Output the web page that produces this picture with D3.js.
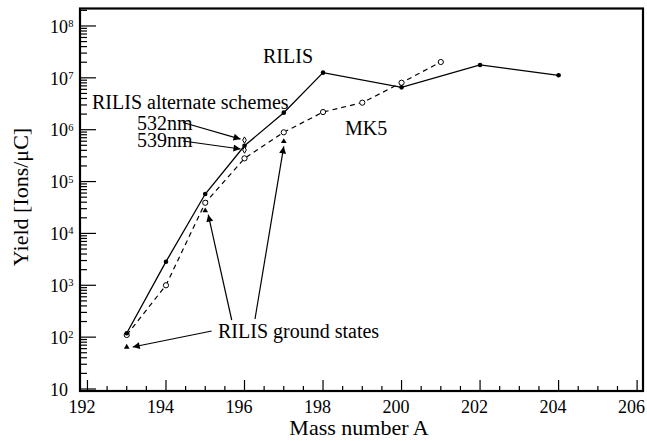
<!DOCTYPE html>
<html>
<head>
<meta charset="UTF-8">
<style>
    body { margin: 0; background: white; }
    text { font-family: "Liberation Serif", "DejaVu Serif", serif; fill: black; }
    .frame { fill: none; stroke: black; stroke-width: 2.2; }
    .tick { stroke: black; stroke-width: 1.2; }
</style>
</head>
<body>
<svg width="647" height="441"></svg>
<script src="https://d3js.org/d3.v7.min.js"></script>
<script>
// data
var rilisMass = [193, 194, 195, 196, 197, 198, 200, 202, 204];
var rilisYield = [119, 2850, 5.75e4, 4.9e5, 2.13e6, 1.26e7, 6.56e6, 1.77e7, 1.12e7];
var mk5Mass = [193, 194, 195, 196, 197, 198, 199, 200, 201];
var mk5Yield = [110, 1000, 3.9e4, 2.8e5, 8.9e5, 2.19e6, 3.32e6, 8.05e6, 2.02e7];
var groundMass = [193, 195, 197];
var groundYield = [64.5, 2.74e4, 5.94e5];
var altLabels = ["532nm", "539nm"];
var altMass = [196, 196];
var altYield = [6.3e5, 4.06e5];
var xTicks = [192, 194, 196, 198, 200, 202, 204, 206];
var yExp = [1, 2, 3, 4, 5, 6, 7, 8];

var svg = d3.select("svg");
var pLeft = 80, pTop = 8.5, pRight = 643, pBottom = 391;

var x = d3.scaleLinear().domain([191.81, 206.15]).range([pLeft, pRight]);
var y = d3.scaleLog().domain([Math.pow(10, 0.9614), Math.pow(10, 8.337)]).range([pBottom, pTop]);

svg.append("defs").append("marker")
    .attr("id", "head")
    .attr("viewBox", "0 0 10 10")
    .attr("refX", 10).attr("refY", 5)
    .attr("markerWidth", 9).attr("markerHeight", 7)
    .attr("markerUnits", "userSpaceOnUse")
    .attr("orient", "auto")
    .append("path").attr("d", "M0,0L10,5L0,10z").attr("fill", "black");

// y ticks (major + minor), inside the frame
var g = svg.append("g");
yExp.forEach(function(e) {
    var v = Math.pow(10, e);
    g.append("line").attr("class", "tick")
        .attr("x1", pLeft).attr("x2", pLeft + 16)
        .attr("y1", y(v)).attr("y2", y(v));
    for (var m = 2; m <= 9; m++) {
        var mv = m * v;
        if (mv > y.domain()[1]) break;
        g.append("line").attr("class", "tick")
            .attr("x1", pLeft).attr("x2", pLeft + 7)
            .attr("y1", y(mv)).attr("y2", y(mv));
    }
    g.append("text").attr("x", 68).attr("y", y(v) + 6.7)
        .attr("text-anchor", "end").attr("font-size", 18).text("10");
    if (e > 1) {
        g.append("text").attr("x", 68.3).attr("y", y(v) + 1)
            .attr("font-size", 10.5).text(e);
    }
});

// x ticks
d3.range(192, 206.01, 0.5).forEach(function(t) {
    var major = t % 2 === 0;
    g.append("line").attr("class", "tick")
        .attr("x1", x(t)).attr("x2", x(t))
        .attr("y1", pBottom).attr("y2", pBottom - (major ? 11 : 5));
});
g.selectAll(".xl").data(xTicks).enter().append("text")
    .attr("x", function(d) { return x(d) - 5.5; }).attr("y", 413)
    .attr("text-anchor", "middle").attr("font-size", 18)
    .text(function(d) { return d; });

svg.append("rect").attr("class", "frame")
    .attr("x", pLeft).attr("y", pTop)
    .attr("width", pRight - pLeft).attr("height", pBottom - pTop);

// axis titles
svg.append("text").attr("x", 359).attr("y", 435)
    .attr("text-anchor", "middle").attr("font-size", 22).text("Mass number A");
svg.append("text").attr("transform", "translate(28,197) rotate(-90)")
    .attr("text-anchor", "middle").attr("font-size", 22).text("Yield [Ions/μC]");

// lines
var line = d3.line().x(function(d) { return x(d[0]); }).y(function(d) { return y(d[1]); });
var rilis = d3.zip(rilisMass, rilisYield);
var mk5 = d3.zip(mk5Mass, mk5Yield);

svg.append("path").datum(mk5).attr("d", line)
    .attr("fill", "none").attr("stroke", "black").attr("stroke-width", 1.2)
    .attr("stroke-dasharray", "5,4");
svg.append("path").datum(rilis).attr("d", line)
    .attr("fill", "none").attr("stroke", "black").attr("stroke-width", 1.3);

svg.selectAll(".mk").data(mk5).enter().append("circle")
    .attr("cx", function(d) { return x(d[0]); }).attr("cy", function(d) { return y(d[1]); })
    .attr("r", 2.6).attr("fill", "white").attr("stroke", "black").attr("stroke-width", 1);
svg.selectAll(".rl").data(rilis).enter().append("circle")
    .attr("cx", function(d) { return x(d[0]); }).attr("cy", function(d) { return y(d[1]); })
    .attr("r", 2.3).attr("fill", "black");

var tri = d3.symbol().type(d3.symbolTriangle).size(14);
svg.selectAll(".gs").data(d3.zip(groundMass, groundYield)).enter().append("path")
    .attr("d", tri)
    .attr("transform", function(d) { return "translate(" + x(d[0]) + "," + y(d[1]) + ")"; })
    .attr("fill", "black");

var dia = d3.symbol().type(d3.symbolDiamond).size(12);
svg.selectAll(".alt").data(d3.zip(altMass, altYield)).enter().append("path")
    .attr("d", dia)
    .attr("transform", function(d) { return "translate(" + x(d[0]) + "," + y(d[1]) + ")"; })
    .attr("fill", "white").attr("stroke", "black").attr("stroke-width", 1);

// annotations
function label(tx, ty, s) {
    svg.append("text").attr("x", tx).attr("y", ty).attr("font-size", 20).text(s);
}
label(263, 63, "RILIS");
label(345, 135, "MK5");
label(92, 109, "RILIS alternate schemes");
label(137, 129.5, altLabels[0]);
label(137, 147, altLabels[1]);
label(218, 338, "RILIS ground states");

function arrow(x1, y1, x2, y2) {
    svg.append("line").attr("x1", x1).attr("y1", y1).attr("x2", x2).attr("y2", y2)
        .attr("stroke", "black").attr("stroke-width", 1.2)
        .attr("marker-end", "url(#head)");
}
arrow(183, 122.5, x(altMass[0]) - 4, y(altYield[0]) - 1);
arrow(183, 141, x(altMass[1]) - 4, y(altYield[1]) - 1);
arrow(211.7, 331, x(groundMass[0]) + 6, y(groundYield[0]));
arrow(231.7, 320, x(groundMass[1]) + 3, y(groundYield[1]) + 4);
arrow(255, 319, x(groundMass[2]), y(groundYield[2]) + 5);
</script>
</body>
</html>
